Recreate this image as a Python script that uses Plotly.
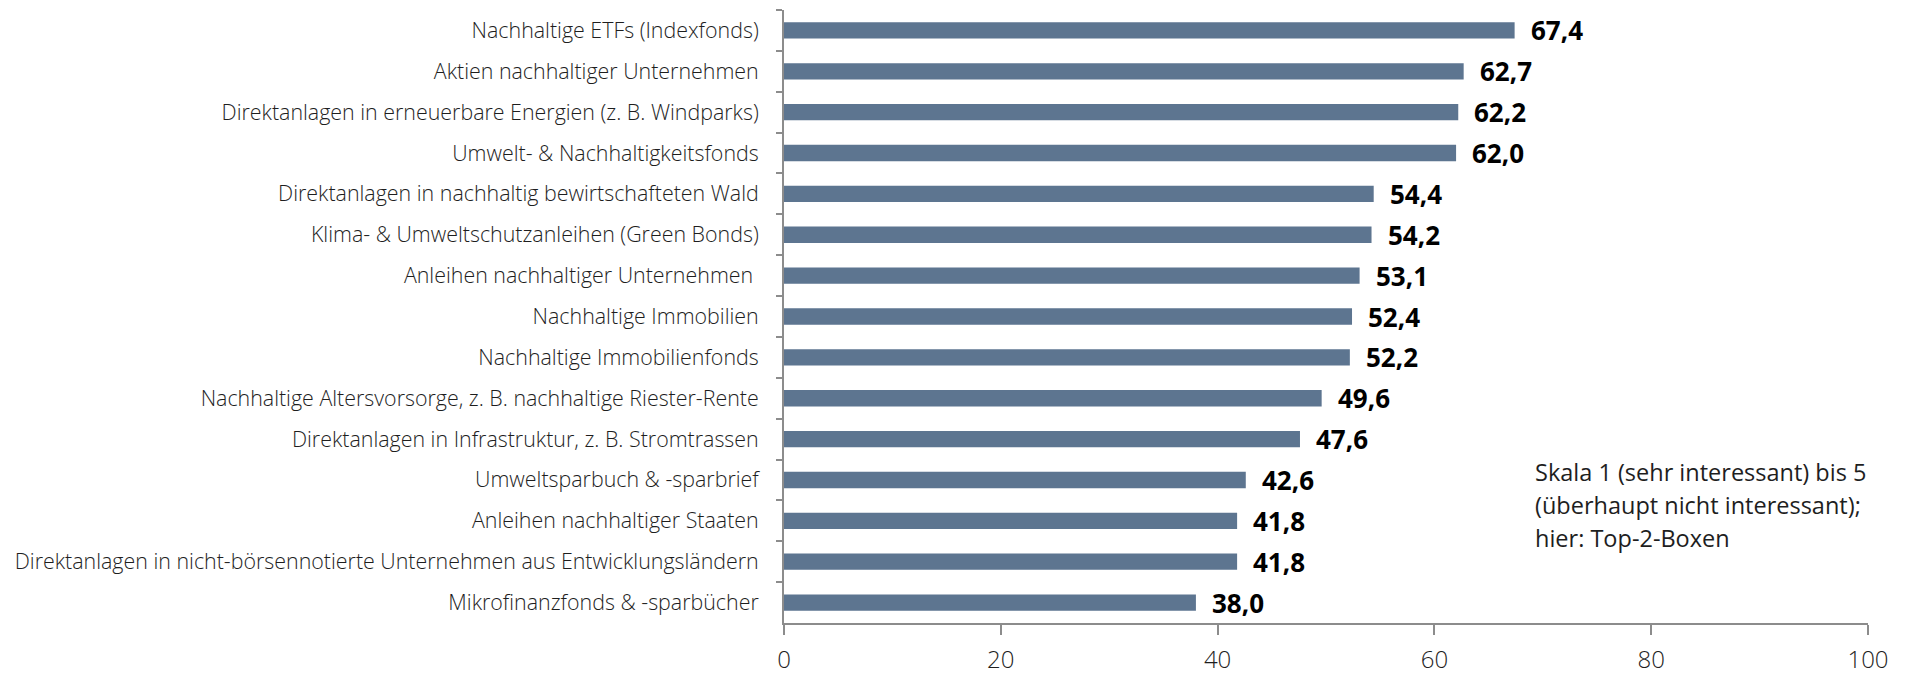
import plotly.graph_objects as go

# Survey: interest in sustainable investment products (Top-2-Boxen, %)
categories = [
    "Nachhaltige ETFs (Indexfonds)",
    "Aktien nachhaltiger Unternehmen",
    "Direktanlagen in erneuerbare Energien (z. B. Windparks)",
    "Umwelt- & Nachhaltigkeitsfonds",
    "Direktanlagen in nachhaltig bewirtschafteten Wald",
    "Klima- & Umweltschutzanleihen (Green Bonds)",
    "Anleihen nachhaltiger Unternehmen ",
    "Nachhaltige Immobilien",
    "Nachhaltige Immobilienfonds",
    "Nachhaltige Altersvorsorge, z. B. nachhaltige Riester-Rente",
    "Direktanlagen in Infrastruktur, z. B. Stromtrassen",
    "Umweltsparbuch & -sparbrief",
    "Anleihen nachhaltiger Staaten",
    "Direktanlagen in nicht-börsennotierte Unternehmen aus Entwicklungsländern",
    "Mikrofinanzfonds & -sparbücher",
]
values = [67.4, 62.7, 62.2, 62.0, 54.4, 54.2, 53.1, 52.4, 52.2, 49.6, 47.6, 42.6, 41.8, 41.8, 38.0]
x_ticks = [0, 20, 40, 60, 80, 100]
note_lines = [
    "Skala 1 (sehr interessant) bis 5",
    "(überhaupt nicht interessant);",
    "hier: Top-2-Boxen",
]

BAR_COLOR = "#5d7590"
AXIS_COLOR = "#8c8c8c"
TEXT_COLOR = "#1e1e1e"
FONT = "Open Sans"

W, H = 1918, 674
ML, MR, MT, MB = 784, 50, 10, 51
pw, ph = W - ML - MR, H - MT - MB

fig = go.Figure()
fig.add_trace(go.Bar(
    x=values,
    y=categories,
    orientation="h",
    marker=dict(color=BAR_COLOR, line=dict(width=0)),
    hoverinfo="skip",
))

# Value labels at the end of each bar
for cat, v in zip(categories, values):
    fig.add_annotation(
        x=v, y=cat, xref="x", yref="y",
        text=f"{v:.1f}".replace(".", ","),
        showarrow=False, xanchor="left", yanchor="middle",
        xshift=14,
        font=dict(family=FONT, size=26, color="#000000", weight="bold"),
    )

# Scale note, right side (positions given in pixels, converted to paper units)
for i, line in enumerate(note_lines):
    px, py = 1533, 472 + 33 * i
    fig.add_annotation(
        x=(px - ML) / pw, y=1 - (py - MT) / ph, xref="paper", yref="paper",
        text=line, showarrow=False, xanchor="left", yanchor="middle",
        font=dict(family=FONT, size=23.5, color=TEXT_COLOR, weight=400),
    )

fig.update_layout(
    width=W, height=H,
    margin=dict(l=ML, r=MR, t=MT, b=MB, autoexpand=False),
    plot_bgcolor="white", paper_bgcolor="white",
    bargap=0.6,
    showlegend=False,
    font=dict(family=FONT, color=TEXT_COLOR),
)
fig.update_xaxes(
    range=[0, 100], tickvals=x_ticks, ticktext=[str(t) for t in x_ticks],
    showgrid=False, zeroline=False,
    showline=True, linecolor=AXIS_COLOR, linewidth=2,
    ticks="outside", ticklen=10, tickwidth=1.5, tickcolor=AXIS_COLOR,
    tickfont=dict(family=FONT, size=24, color=TEXT_COLOR, weight=300),
    ticklabelstandoff=4,
)
fig.update_yaxes(
    categoryorder="array", categoryarray=categories,
    autorange="reversed",
    showgrid=False, zeroline=False,
    showline=True, linecolor=AXIS_COLOR, linewidth=2,
    ticks="outside", ticklen=6, tickwidth=1.5, tickcolor=AXIS_COLOR,
    tickson="boundaries",
    tickfont=dict(family=FONT, size=21.4, color=TEXT_COLOR, weight=300),
    ticklabelstandoff=19,
)

fig.write_html("out.html")
